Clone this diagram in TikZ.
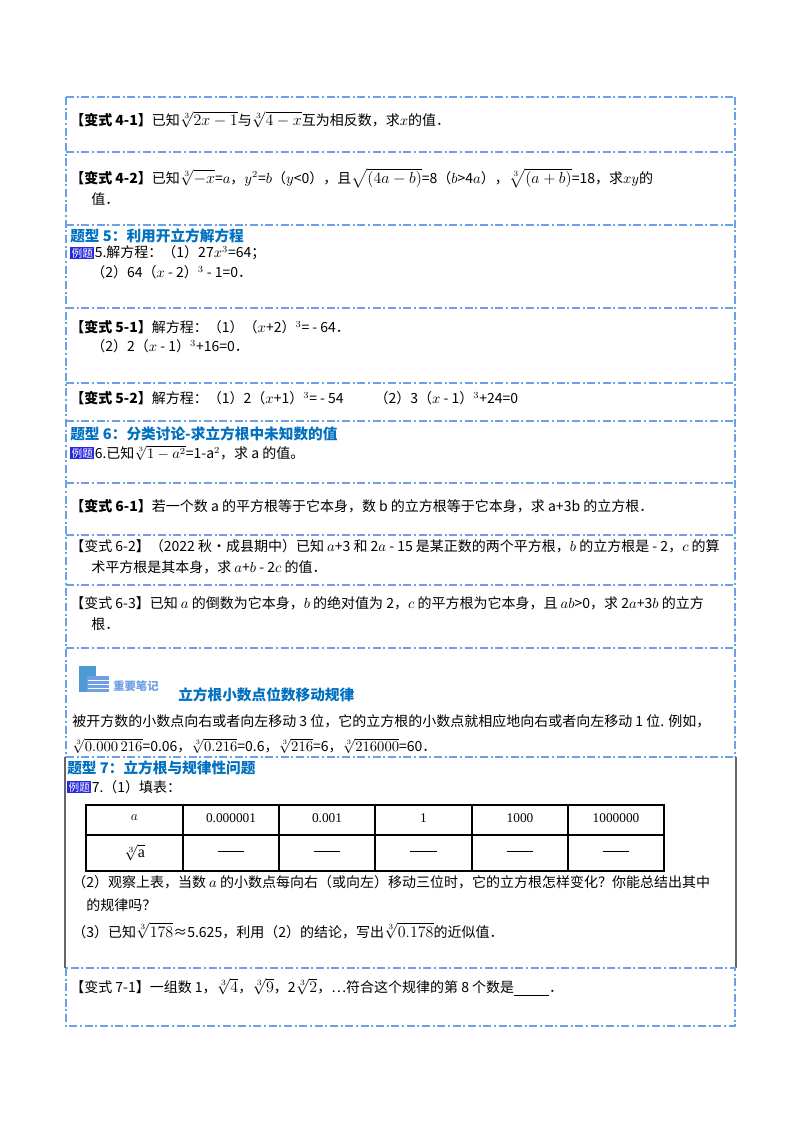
\documentclass[tikz,border=0pt]{standalone}
\usepackage{fontspec}
\usepackage{amsmath}
\setmainfont{Liberation Serif}
\newfontfamily\cjk{Noto Sans CJK SC}
\definecolor{frameblue}{RGB}{110,160,230}
\definecolor{titleblue}{RGB}{0,112,192}
\definecolor{badge}{RGB}{40,40,220}
\tikzset{
 sep/.style={frameblue,line width=0.9pt,dash pattern=on 6pt off 2pt on 1.5pt off 2pt},
 txt/.style={anchor=west,inner sep=0pt,font=\cjk\fontsize{10.5}{15}\selectfont,text=black},
 ttl/.style={anchor=west,inner sep=0pt,font=\cjk\bfseries\fontsize{11}{14}\selectfont,text=titleblue},
 bdg/.style={anchor=west,inner sep=1pt,fill=badge,text=white,font=\cjk\fontsize{8}{9}\selectfont},
 cell/.style={inner sep=0pt,font=\fontsize{10}{12}\selectfont}
}
\begin{document}
\begin{tikzpicture}[x=0.75pt,y=-0.75pt]
\useasboundingbox (0,0) rectangle (800,1132);
% frame
\foreach \y in {97,152,225,308,383,421,483,535,585,648,757}{\draw[sep] (66,\y) -- (735,\y);}
\draw[sep] (66,97) -- (66,757); \draw[sep] (735,97) -- (735,757);
\draw[gray!80!black,line width=0.8pt] (65,757) -- (65,968);
\draw[gray!80!black,line width=0.8pt] (736,757) -- (736,968);
\draw[sep] (66,968) rectangle (735,1026);
% 4-1
\node[txt] (a41) at (70,120) {\textbf{【变式 4-1】}已知{\large$\sqrt[3]{2x-1}$}与{\large$\sqrt[3]{4-x}$}互为相反数，求$x$的值．};
\node[txt] (a42) at (70,178) {\textbf{【变式 4-2】}已知{\large$\sqrt[3]{-x}$}=$a$，$y^2$=$b$（$y$<0），且{\large$\sqrt{(4a-b)}$}=8（$b$>4$a$），{\large$\sqrt[3]{(a+b)}$}=18，求$xy$的};
\node[txt] (a42b) at (91,199) {值．};
% 5
\node[ttl] (t5) at (70,236) {题型 5：利用开立方解方程};
\node[bdg] (b5) at (70,253) {例题};
\node[txt] (e5) at (b5.east) {5.解方程：（1）27$x^3$=64；};
\node[txt] (e5b) at (91,272) {（2）64（$x$ - 2）$^3$ - 1=0．};
\node[txt] (a51) at (70,327) {\textbf{【变式 5-1】}解方程：（1）（$x$+2）$^3$= - 64．};
\node[txt] (a51b) at (91,346) {（2）2（$x$ - 1）$^3$+16=0．};
\node[txt] (a52) at (70,398) {\textbf{【变式 5-2】}解方程：（1）2（$x$+1）$^3$= - 54\hspace{2.2em}（2）3（$x$ - 1）$^3$+24=0};
% 6
\node[ttl] (t6) at (70,434) {题型 6：分类讨论-求立方根中未知数的值};
\node[bdg] (b6) at (70,453) {例题};
\node[txt] (e6) at (b6.east) {6.已知$\sqrt[3]{1-a^2}$=1-a$^2$，求 a 的值。};
\node[txt] (a61) at (70,506) {\textbf{【变式 6-1】}若一个数 a 的平方根等于它本身，数 b 的立方根等于它本身，求 a+3b 的立方根．};
\node[txt] (a62) at (70,546) {【变式 6-2】（2022 秋•成县期中）已知 $a$+3 和 2$a$ - 15 是某正数的两个平方根，$b$ 的立方根是 - 2，$c$ 的算};
\node[txt] (a62b) at (91,567) {术平方根是其本身，求 $a$+$b$ - 2$c$ 的值．};
\node[txt] (a63) at (70,603) {【变式 6-3】已知 $a$ 的倒数为它本身，$b$ 的绝对值为 2，$c$ 的平方根为它本身，且 $ab$>0，求 2$a$+3$b$ 的立方};
\node[txt] (a63b) at (91,624) {根．};
% note
\fill[titleblue!70] (79,666) rectangle (96,692);
\fill[frameblue] (87,676) rectangle (109,692);
\foreach \yy in {680,684,688}{\draw[white,line width=0.6pt] (88,\yy) -- (109,\yy);}
\node[ttl,font=\cjk\bfseries\fontsize{8.5}{10}\selectfont,text=frameblue] (nt) at (113,686) {重要笔记};
\node[ttl] (nt2) at (178,695) {立方根小数点位数移动规律};
\node[txt] (n1) at (72,721) {被开方数的小数点向右或者向左移动 3 位，它的立方根的小数点就相应地向右或者向左移动 1 位. 例如，};
\node[txt] (n2) at (72,746) {$\sqrt[3]{0.000\,216}$=0.06，$\sqrt[3]{0.216}$=0.6，$\sqrt[3]{216}$=6，$\sqrt[3]{216000}$=60．};
% 7
\node[ttl] (t7) at (67,768) {题型 7：立方根与规律性问题};
\node[bdg] (b7) at (67,787) {例题};
\node[txt] (e7) at (b7.east) {7.（1）填表：};
\draw[line width=0.9pt] (86,805) rectangle (664,871);
\draw[line width=0.9pt] (86,835) -- (664,835);
\foreach \x in {183,279,375,472,568}{\draw[line width=0.9pt] (\x,805) -- (\x,871);}
\node[cell] (c0) at (134.5,818) {$a$};
\node[cell] (c1) at (231,818) {0.000001};
\node[cell] (c2) at (327,818) {0.001};
\node[cell] (c3) at (423.5,818) {1};
\node[cell] (c4) at (520,818) {1000};
\node[cell] (c5) at (616,818) {1000000};
\node[cell] (d0) at (134.5,853) {\large$\sqrt[3]{\mathrm{a}}$};
\foreach \x/\n in {231/d1,327/d2,423.5/d3,520/d4,616/d5}{\node[cell] (\n) at (\x,853) {\rule[0.6ex]{2em}{0.4pt}};}
\node[txt] (e7b) at (72,882) {（2）观察上表，当数 $a$ 的小数点每向右（或向左）移动三位时，它的立方根怎样变化？你能总结出其中};
\node[txt] (e7c) at (86,905) {的规律吗？};
\node[txt] (e7d) at (72,931) {（3）已知{\large$\sqrt[3]{178}$}≈5.625，利用（2）的结论，写出{\large$\sqrt[3]{0.178}$}的近似值．};
\node[txt] (a71) at (70,987) {【变式 7-1】一组数 1，{\large$\sqrt[3]{4}$}，{\large$\sqrt[3]{9}$}，2{\large$\sqrt[3]{2}$}，…符合这个规律的第 8 个数是\underline{\hspace{2.5em}}．};
\end{tikzpicture}
\end{document}
